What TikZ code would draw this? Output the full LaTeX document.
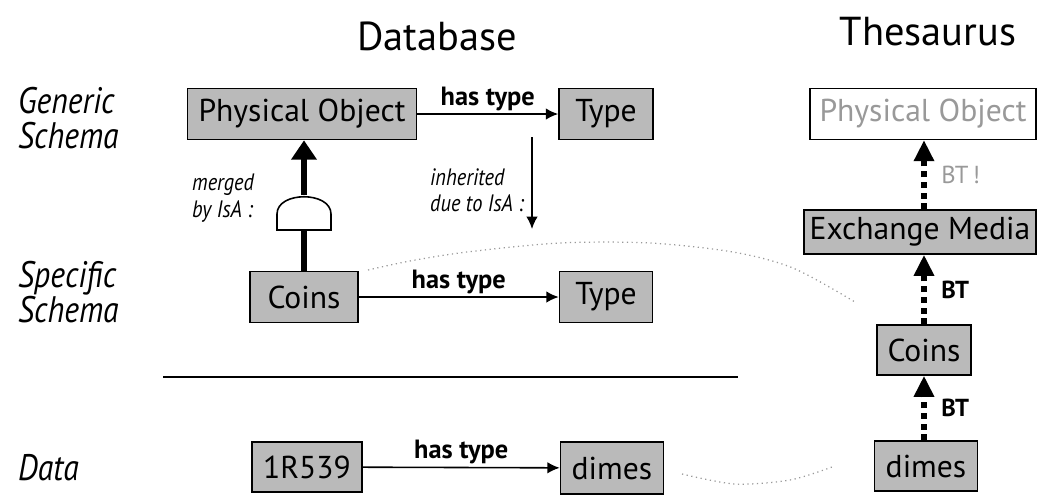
\documentclass[tikz,border=0pt]{standalone}
\usepackage{fontspec}
\setmainfont{PT Sans}
\newfontfamily\narrowsans{PT Sans}[FakeStretch=0.86]
\usetikzlibrary{arrows.meta}
\tikzset{
    dbbox/.style={draw, line width=0.9pt, fill=black!27, inner sep=0pt, minimum height=1.02cm, font=\fontsize{18}{20}\selectfont},
    ghostbox/.style={dbbox, line width=0.7pt, fill=white, text=black!40},
    title/.style={font=\fontsize{23}{26}\selectfont},
    rowlbl/.style={anchor=west, align=left, font=\narrowsans\itshape\fontsize{21}{20}\selectfont},
    note/.style={anchor=west, align=left, font=\narrowsans\itshape\fontsize{13.5}{15}\selectfont},
    edgelbl/.style={above, inner sep=1.5pt, font=\bfseries\fontsize{15}{16}\selectfont},
    btlbl/.style={right, xshift=5pt, font=\bfseries\fontsize{14}{15}\selectfont},
    hastype/.style={line width=0.9pt, -{Latex[length=7pt,width=6.5pt]}},
    isa/.style={line width=3.4pt, -{Triangle[length=11pt,width=14pt]}},
    bt/.style={line width=3pt, dash pattern=on 3.3pt off 2.8pt, -{Triangle[length=12pt,width=11pt]}},
    halo/.style={black!40, line width=0.7pt, dotted},
}
\begin{document}
\begin{tikzpicture}[x=0.02cm,y=-0.02cm]
    \useasboundingbox (0,0) rectangle (1038,498);
    \node[title] (dbtitle) at (437,36) {Database};
    \node[title] (thtitle) at (928,32) {Thesaurus};
    \node[rowlbl] (generic) at (12,118) {Generic\\Schema};
    \node[rowlbl] (specific) at (12,292) {Specific\\Schema};
    \node[rowlbl] (data) at (12,468) {Data};
    \draw[halo] plot[smooth] coordinates {(368,270) (410,261) (467,252) (560,243) (650,243) (733,252) (793,268) (855,302)};
    \draw[halo] plot[smooth] coordinates {(682,474) (735,484) (790,480) (832,467)};
    \node[dbbox, minimum width=4.58cm] (po) at (302,114) {Physical Object};
    \node[dbbox, minimum width=1.88cm] (gtype) at (606,114) {Type};
    \node[dbbox, minimum width=2.16cm] (coins) at (304,297) {Coins};
    \node[dbbox, minimum width=1.86cm] (stype) at (606,297) {Type};
    \node[dbbox, minimum width=2.2cm, minimum height=1cm] (ir) at (307,467) {1R539};
    \node[dbbox, minimum width=2.06cm, minimum height=1.04cm] (ddimes) at (612,468) {dimes};
    \foreach \a/\b in {po/gtype,coins/stype,ir/ddimes} {
        \draw[hastype] (\a) -- node[edgelbl] {has type} (\b);
    }
    \coordinate (gatein) at (304,230);
    \coordinate (gateout) at (304,195);
    \draw[line width=3.4pt] (coins.north) -- (gatein);
    \draw[isa] (gateout) -- (po.south -| gateout);
    \draw[line width=0.9pt, fill=white] (277,230) -- (277,214) .. controls (277,191) and (331,191) .. (331,214) -- (331,230) -- cycle;
    \node[note] (merged) at (186,198) {merged\\by IsA :};
    \node[note] (inherited) at (424,190) {inherited\\due to IsA :};
    \coordinate (inhfrom) at (532,137);
    \coordinate (inhto) at (532,229);
    \draw[hastype] (inhfrom) -- (inhto);
    \coordinate (divl) at (163,377);
    \coordinate (divr) at (738,377);
    \draw[line width=1pt] (divl) -- (divr);
    \node[ghostbox, minimum width=4.52cm] (tpo) at (923,114) {Physical Object};
    \node[dbbox, minimum width=4.64cm, minimum height=0.88cm] (em) at (920,232) {Exchange Media};
    \node[dbbox, minimum width=1.88cm, minimum height=1cm] (tcoins) at (924,350) {Coins};
    \node[dbbox, minimum width=2.06cm, minimum height=1cm] (tdimes) at (926,466) {dimes};
    \draw[bt] (em.north -| tcoins.north) -- node[btlbl, text=black!40, font=\fontsize{14}{15}\selectfont] {BT\,!} (tpo.south -| tcoins.north);
    \draw[bt] (tcoins.north) -- node[btlbl] {BT} (em.south -| tcoins.north);
    \draw[bt] (tdimes.north -| tcoins.north) -- node[btlbl] {BT} (tcoins.south);
\end{tikzpicture}
\end{document}
